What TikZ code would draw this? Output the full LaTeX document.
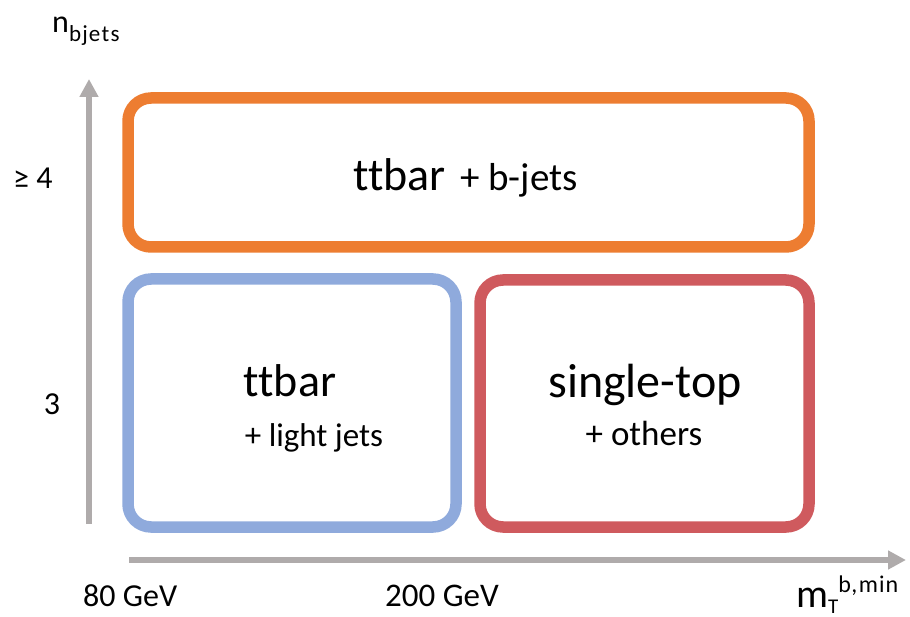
\documentclass[tikz,border=0pt]{standalone}
\usepackage{fontspec}
\setmainfont{Carlito}[Ligatures=NoCommon]
\usetikzlibrary{arrows.meta}
\definecolor{axisgray}{HTML}{AFABAB}
\definecolor{boxorange}{HTML}{ED7D31}
\definecolor{boxblue}{HTML}{8FAADC}
\definecolor{boxred}{HTML}{CF5A5E}
\tikzset{
  axisline/.style={draw=axisgray, line width=6pt, -{Triangle[length=18pt,width=18pt]}},
  regionbox/.style={line width=11.5pt, rounded corners=23pt},
  bigtxt/.style={font=\fontsize{46}{46}\selectfont, inner sep=0pt, anchor=base},
  smalltxt/.style={font=\fontsize{33}{33}\selectfont, inner sep=0pt, anchor=base},
  axtxt/.style={font=\fontsize{32}{32}\selectfont, inner sep=0pt},
}
\begin{document}
\begin{tikzpicture}[x=1pt,y=-1pt]
\useasboundingbox (0,0) rectangle (910,617);
% axes
\coordinate (ybot) at (89,524);
\coordinate (ytop) at (89,79);
\coordinate (xleft) at (129,560);
\coordinate (xright) at (906,560);
\draw[axisline] (ybot) -- (ytop);
\draw[axisline] (xleft) -- (xright);
% boxes
\draw[regionbox, draw=boxorange] (128,98) rectangle (809,247);
\draw[regionbox, draw=boxblue] (128,279) rectangle (456,527);
\draw[regionbox, draw=boxred] (480,280) rectangle (809,527);
% box texts
\node[bigtxt, anchor=base east] (tt1) at (446,191) {ttbar};
\node[smalltxt, font=\fontsize{39}{39}\selectfont, anchor=base west] (bj) at (460,191) {+ b-jets};
\node[bigtxt] (tt2) at (290,396) {ttbar};
\node[smalltxt] (lj) at (314,446) {+ light jets};
\node[bigtxt, font=\fontsize{48}{48}\selectfont] (st) at (645,397) {single-top};
\node[smalltxt, font=\fontsize{35}{35}\selectfont] (ot) at (644,445) {+ others};
% axis labels
\node[axtxt, anchor=base west] (ny) at (52,33) {n\raisebox{-9pt}{\fontsize{23}{23}\selectfont b\kern1.2pt j\kern1.2pt e\kern1.2pt t\kern1.2pt s}};
\node[axtxt, anchor=base west] (ge4) at (13,189) {≥ 4};
\node[axtxt, anchor=base] (n3) at (52,414) {3};
\node[axtxt, anchor=base west] (g80) at (83,606) {80 GeV};
\node[axtxt, font=\fontsize{33}{33}\selectfont, anchor=base west] (g200) at (385,606) {200 GeV};
\node[axtxt, font=\fontsize{40}{40}\selectfont, anchor=base west] (mt) at (796,607) {m\raisebox{-6pt}{\fontsize{21}{21}\selectfont T}\raisebox{15pt}{\fontsize{24}{24}\selectfont b\kern0.5pt,\kern1.5pt m\kern1pt i\kern1pt n}};
\end{tikzpicture}
\end{document}
